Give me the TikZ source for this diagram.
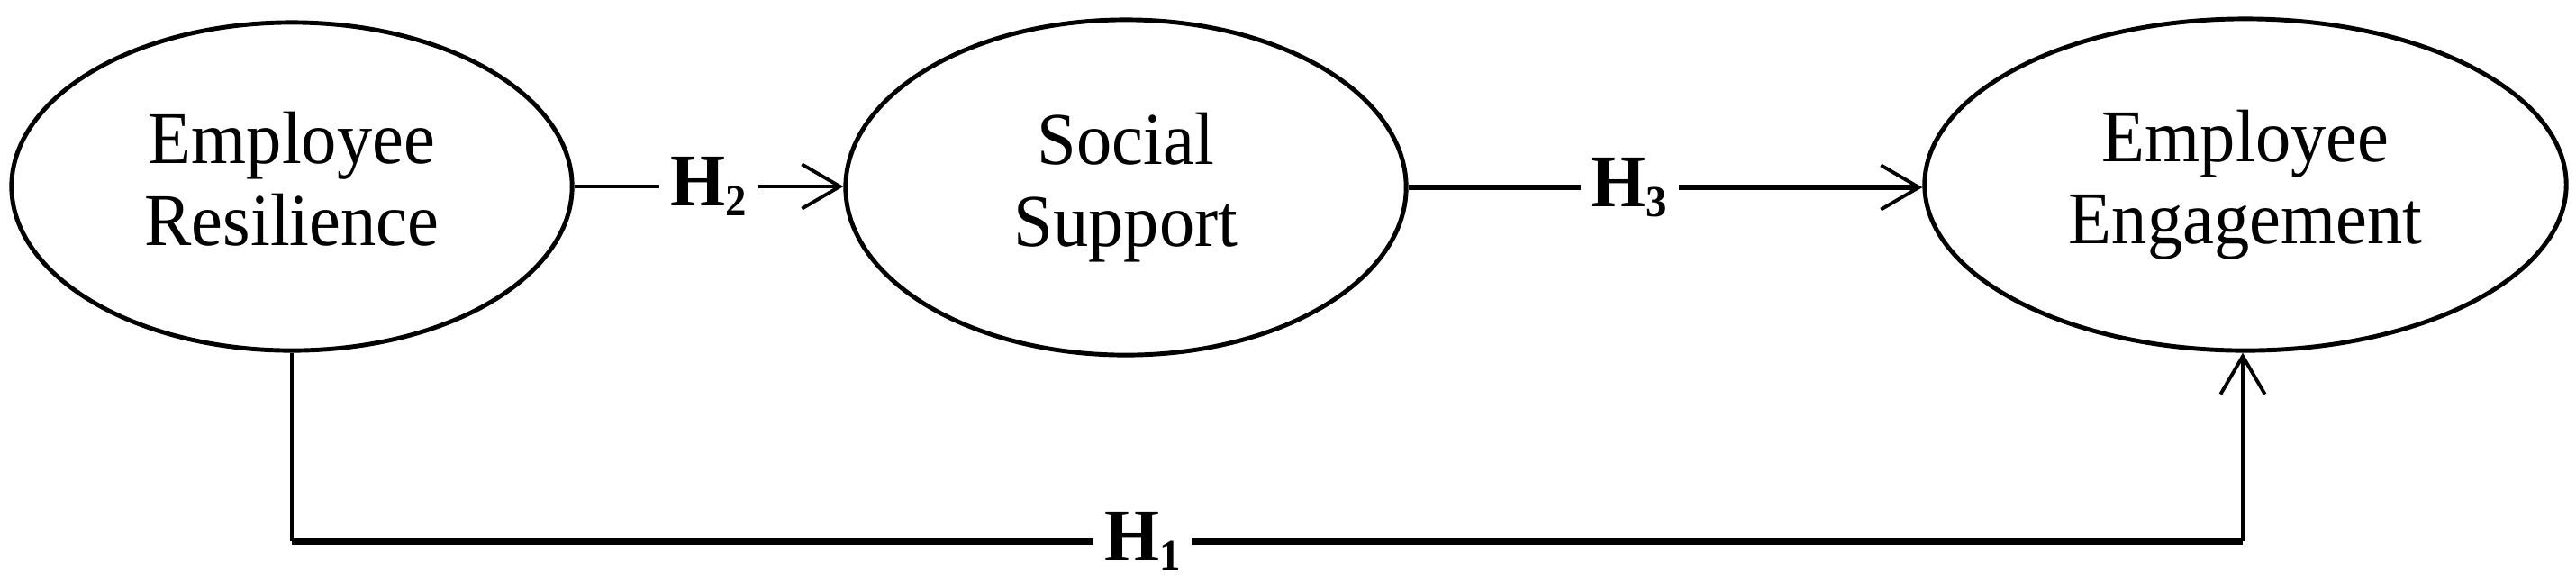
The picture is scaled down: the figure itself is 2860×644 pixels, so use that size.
\documentclass[tikz,border=0pt]{standalone}
\usepackage{fontspec}
\setmainfont{Liberation Serif}[FakeStretch=0.95]
\usetikzlibrary{arrows.meta,shapes.geometric}
\newcommand{\hsub}[1]{H\raisebox{-0.28ex}{\fontsize{14}{14}\selectfont #1}}
\begin{document}
\begin{tikzpicture}[x=0.01cm,y=-0.01cm,
  lat/.style={draw,ellipse,line width=1.4pt,inner sep=0pt,align=center,
              font=\fontsize{23.5}{26}\selectfont},
  lbl/.style={fill=white,inner xsep=3.5pt,inner ysep=1pt,
              font=\fontsize{23.5}{26}\selectfont\bfseries},
  hln/.style={line width=1.3pt},
  vln/.style={line width=0.9pt},
  bln/.style={line width=2.3pt},
  arr/.style={-{Straight Barb[length=12pt,width=14pt,line width=1.1pt]}}
]
\useasboundingbox (0,0) rectangle (2860,644);
\node[lat,minimum width=6.22cm,minimum height=3.64cm] (er) at (324,207) {Employee\\Resilience\vphantom{g}};
\node[lat,minimum width=6.22cm,minimum height=3.72cm] (ss) at (1250,208) {Social\\Support};
\node[lat,minimum width=7.12cm,minimum height=3.68cm] (ee) at (2493,205) {Employee\\Engagement};
% H2
\draw[hln,arr] (er.east) -- node[lbl] {\hsub{2}} (er.east -| ss.west);
% H3
\draw[hln,line width=1.5pt,arr] (ss.east) -- node[lbl,pos=0.43] {\hsub{3}} (ss.east -| ee.west);
% H1
\coordinate (bl) at (324,601);
\coordinate (br) at (2490,601);
\draw[vln] (er.south) -- (bl);
\draw[bln] (bl) -- node[lbl,pos=0.436] {\hsub{1}} (br);
\draw[vln,arr] (br) -- (br |- ee.south);
\end{tikzpicture}
\end{document}
